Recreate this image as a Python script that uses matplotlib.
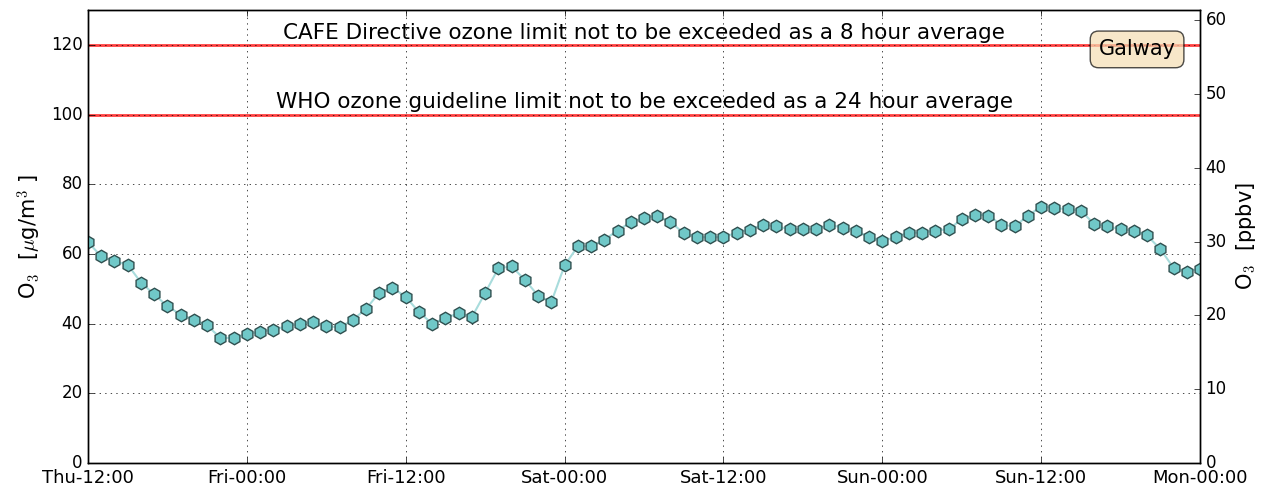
import matplotlib
matplotlib.use("Agg")
import matplotlib.pyplot as plt

plt.style.use('classic')

# hourly ozone, Thu 12:00 -> Mon 00:00
hours = list(range(85))
o3_ugm3 = [63.4, 59.3, 57.9, 56.9, 51.8, 48.4, 45.0, 42.6, 41.1, 39.5,
           35.9, 35.9, 37.1, 37.6, 38.3, 39.2, 40.0, 40.4, 39.3, 38.9,
           41.1, 44.2, 48.9, 50.3, 47.7, 43.3, 40.0, 41.6, 43.0, 41.9,
           48.8, 55.9, 56.4, 52.6, 48.0, 46.2, 56.7, 62.2, 62.2, 64.1,
           66.7, 69.1, 70.3, 71.0, 69.1, 66.0, 64.8, 64.8, 64.8, 66.1,
           67.0, 68.4, 67.9, 67.1, 67.1, 67.1, 68.4, 67.5, 66.7, 64.8,
           63.7, 64.8, 66.1, 66.1, 66.7, 67.1, 69.9, 71.3, 71.0, 68.4,
           67.9, 71.0, 73.6, 73.2, 72.8, 72.4, 68.6, 67.9, 67.1, 66.7,
           65.3, 61.4, 56.0, 54.8, 55.8]

tick_hours = [0, 12, 24, 36, 48, 60, 72, 84]
tick_labels = ['Thu-12:00', 'Fri-00:00', 'Fri-12:00', 'Sat-00:00',
               'Sat-12:00', 'Sun-00:00', 'Sun-12:00', 'Mon-00:00']

limits = [120, 100]
limit_texts = ['CAFE Directive ozone limit not to be exceeded as a 8 hour average',
               'WHO ozone guideline limit not to be exceeded as a 24 hour average']

fig = plt.figure(figsize=(12.68, 4.92), dpi=100, facecolor='white')
ax = fig.add_axes([0.0694, 0.0589, 0.8770, 0.9208])

for lim, txt in zip(limits, limit_texts):
    ax.axhline(lim, color='red', lw=2, alpha=0.75, zorder=1)
    ax.text(42, lim + 0.6, txt, ha='center', va='bottom', fontsize=15.5)

ax.plot(hours, o3_ugm3, '-', color='#a8dcdc', lw=1.5, zorder=3)
ax.plot(hours, o3_ugm3, 'h', ms=9, mfc='#70c8c8', mec='#2f4f4f', mew=1, zorder=4)

ax.set_xlim(0, 84)
ax.set_ylim(0, 130)
ax.set_xticks(tick_hours)
ax.set_xticklabels(tick_labels)
ax.set_yticks(range(0, 121, 20))
ax.tick_params(axis='y', labelsize=12)
ax.tick_params(axis='x', labelsize=13)
ax.grid(True, color='k', linestyle=':', zorder=2)
ax.set_ylabel(r'O$_3$  [$\mu$g/m$^3$ ]', fontsize=15)

ax.text(0.978, 0.913, 'Galway', transform=ax.transAxes, ha='right', va='center',
        fontsize=15, bbox=dict(boxstyle='round,pad=0.4', facecolor='wheat', alpha=0.7))

ax2 = ax.twinx()
ax2.set_ylim(0, 61.4)
ax2.set_yticks(range(0, 61, 10))
ax2.tick_params(labelsize=12)
ax2.set_ylabel(r'O$_3$  [ppbv]', fontsize=15)

fig.savefig('out.png', dpi=100, facecolor='white')
